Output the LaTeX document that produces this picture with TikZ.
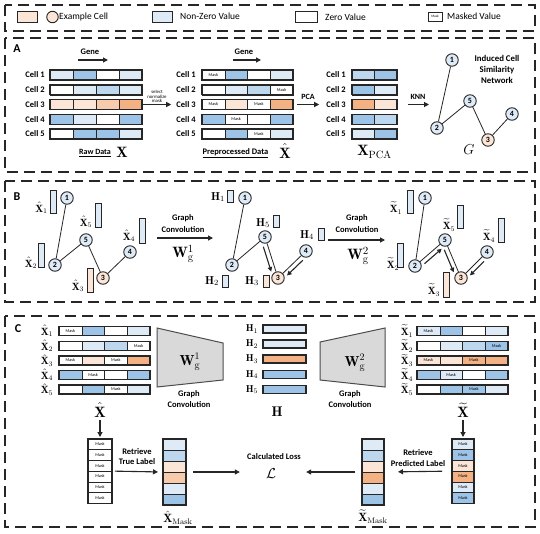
\documentclass[tikz,border=0pt]{standalone}
\usepackage{fontspec}
\setsansfont{Carlito}
\usepackage{amsmath}
\usetikzlibrary{arrows.meta,calc}
\definecolor{lb}{HTML}{DEEBF7}
\definecolor{mb}{HTML}{BDD7EE}
\definecolor{bb}{HTML}{9DC3E6}
\definecolor{lp}{HTML}{FBE5D6}
\definecolor{mp}{HTML}{F8CBAD}
\definecolor{og}{HTML}{F4B183}
\definecolor{gy}{HTML}{D9D9D9}
\definecolor{ln}{HTML}{262626}
\definecolor{w}{HTML}{FFFFFF}
\newcommand\fsz[1]{\fontsize{#1}{#1}\selectfont}
\newcommand\masktxt{\sffamily\fsz{4.3}Mask}
\tikzset{
  frame/.style={draw=ln, line width=1.3pt, dash pattern=on 11pt off 6pt},
  cellbox/.style={draw=ln, line width=0.5pt, inner sep=0pt, outer sep=0pt},
  rowbox/.style={draw=ln, line width=1.1pt, inner sep=0pt, outer sep=0pt},
  lbl/.style={font=\sffamily\bfseries\fsz{8.5}, inner sep=0pt},
  small/.style={font=\sffamily\fontsize{4.8}{4.6}\selectfont, inner sep=0pt, align=center},
  legt/.style={font=\sffamily\fsz{9.5}, inner sep=0pt, anchor=west},
  sec/.style={font=\sffamily\bfseries\fsz{12}, inner sep=0pt},
  gnode/.style={circle, draw=ln, line width=0.9pt, fill=lb, minimum size=12.5pt, inner sep=0pt, font=\sffamily\bfseries\fsz{8}},
  gedge/.style={draw=ln, line width=0.8pt},
  arr/.style={draw=ln, line width=1.1pt, -{Triangle[length=5pt,width=5pt]}},
  garr/.style={draw=ln, line width=1.1pt, -{Triangle[length=4.5pt,width=4.5pt]}, shorten <=2pt, shorten >=1.5pt},
  vbar/.style={draw=ln, line width=0.9pt, fill=lb, minimum width=6pt, inner sep=0pt},
  mth/.style={inner sep=0pt, font=\fsz{#1}},
  trap/.style={draw=black!70, line width=1pt, fill=gy},
}
\newcommand\cellrow[7]{%
  \foreach \cc/\mm [count=\ii] in {#7}{%
    \node[cellbox, fill=\cc, minimum width=#4, minimum height=#5] at ({#2+(\ii-0.5)*#4},#3) {\ifnum\mm=1 \masktxt\fi};}
  \node[rowbox, minimum width={#6*#4}, minimum height=#5, anchor=west] (#1) at (#2,#3) {};}
\newcommand\cellcol[7]{%
  \foreach \cc/\mm [count=\ii] in {#7}{%
    \node[cellbox, fill=\cc, minimum width=#4, minimum height=#5] at (#2,{#3+(\ii-0.5)*#5}) {\ifnum\mm=1 \masktxt\fi};}
  \node[rowbox, minimum width=#4, minimum height={#6*#5}, anchor=north] (#1) at (#2,#3) {};}
\begin{document}
\begin{tikzpicture}[x=1pt,y=-1pt]
\useasboundingbox (0,0) rectangle (540,533);
\fill[white] (0,0) rectangle (540,533);
% ---------------- legend
\draw[frame] (5,5) rectangle (535,31);
\node[cellbox, line width=0.9pt, fill=lp, minimum width=20, minimum height=11] (lg1) at (27,17) {};
\node[circle, draw=ln, line width=0.9pt, fill=lp, minimum size=11.5, inner sep=0pt] (lg2) at (52.5,17) {};
\node[legt] (lg3) at (59,17) {Example Cell};
\node[cellbox, line width=0.9pt, fill=lb, minimum width=20, minimum height=11] (lg4) at (162,17) {};
\node[legt] (lg5) at (180,16.5) {Non-Zero Value};
\node[cellbox, line width=0.9pt, fill=white, minimum width=22, minimum height=11] (lg6) at (306,17) {};
\node[legt] (lg7) at (325,17) {Zero Value};
\node[cellbox, line width=0.9pt, fill=white, minimum width=14, minimum height=9] (lg8) at (435,16.5) {\sffamily\fsz{3.4}Mask};
\node[legt] (lg9) at (447,16.5) {Masked Value};
% ---------------- A
\draw[frame] (5,38) rectangle (535,172);
\node[sec] (seca) at (17,49) {A};
\node[lbl] (gene1) at (90,52) {Gene};
\coordinate (ga1) at (78,60); \coordinate (gb1) at (108,60);
\draw[arr] (ga1) -- (gb1);
\node[lbl] (gene2) at (244,52) {Gene};
\coordinate (ga2) at (233,60); \coordinate (gb2) at (261,60);
\draw[arr] (ga2) -- (gb2);
% raw
\cellrow{r1}{50}{75}{23}{10}{4}{lb/0,bb/0,w/0,lb/0}
\cellrow{r2}{50}{89.75}{23}{10}{4}{w/0,lb/0,mb/0,lb/0}
\cellrow{r3}{50}{104.5}{23}{10}{4}{lp/0,lp/0,mp/0,og/0}
\cellrow{r4}{50}{119.25}{23}{10}{4}{bb/0,lb/0,w/0,bb/0}
\cellrow{r5}{50}{134}{23}{10}{4}{w/0,bb/0,bb/0,lb/0}
\node[lbl] (rc1) at (35,75) {Cell 1};
\node[lbl] (rc2) at (35,89.75) {Cell 2};
\node[lbl] (rc3) at (35,104.5) {Cell 3};
\node[lbl] (rc4) at (35,119.25) {Cell 4};
\node[lbl] (rc5) at (35,134) {Cell 5};
% preprocessed
\cellrow{p1}{202}{75}{22.75}{10}{4}{w/1,bb/0,w/0,lb/0}
\cellrow{p2}{202}{89.75}{22.75}{10}{4}{w/0,lb/0,mb/0,w/1}
\cellrow{p3}{202}{104.5}{22.75}{10}{4}{w/1,lp/0,w/1,og/0}
\cellrow{p4}{202}{119.25}{22.75}{10}{4}{bb/0,w/1,w/0,bb/0}
\cellrow{p5}{202}{134}{22.75}{10}{4}{w/0,bb/0,w/1,lb/0}
\node[lbl] (pc1) at (186,75) {Cell 1};
\node[lbl] (pc2) at (186,89.75) {Cell 2};
\node[lbl] (pc3) at (186,104.5) {Cell 3};
\node[lbl] (pc4) at (186,119.25) {Cell 4};
\node[lbl] (pc5) at (186,134) {Cell 5};
% PCA
\cellrow{q1}{352}{75}{22.5}{10}{2}{mb/0,bb/0}
\cellrow{q2}{352}{89.75}{22.5}{10}{2}{bb/0,lb/0}
\cellrow{q3}{352}{104.5}{22.5}{10}{2}{og/0,lp/0}
\cellrow{q4}{352}{119.25}{22.5}{10}{2}{bb/0,mb/0}
\cellrow{q5}{352}{134}{22.5}{10}{2}{lb/0,bb/0}
\node[lbl] (qc1) at (336,75) {Cell 1};
\node[lbl] (qc2) at (336,89.75) {Cell 2};
\node[lbl] (qc3) at (336,104.5) {Cell 3};
\node[lbl] (qc4) at (336,119.25) {Cell 4};
\node[lbl] (qc5) at (336,134) {Cell 5};
% bottom labels
\node[lbl, font=\sffamily\bfseries\fsz{8}] (rawt) at (95,153) {\underline{Raw Data}};
\node[mth=15] (rawx) at (122,152) {$\mathbf{X}$};
\node[lbl] (pret) at (235.5,153) {\underline{Preprocessed Data}};
\node[mth=15] (prex) at (285,151) {$\hat{\mathbf{X}}$};
\node[mth=15] (pcax) at (374.5,152) {$\mathbf{X}_{\mathrm{PCA}}$};
\node[mth=15] (gg) at (469,150) {$G$};
% arrows
\node[small] (sel) at (157,96.5) {select\\normalize\\mask};
\draw[arr, shorten <=1pt, shorten >=5pt] (r3.east) -- (pc3.west);
\node[lbl, font=\sffamily\bfseries\fsz{8}] (pcat) at (308,97) {PCA};
\draw[arr, shorten <=4pt, shorten >=7pt] (p3.east) -- (qc3.west);
\node[lbl, font=\sffamily\bfseries\fsz{8}] (knnt) at (418,97) {KNN};
\coordinate (knne) at (429,104.5);
\draw[arr, shorten <=11pt] (q3.east) -- (knne);
% graph G
\node[gnode] (a1) at (452,60) {1};
\node[gnode] (a5) at (470,101) {5};
\node[gnode] (a2) at (437,128) {2};
\node[gnode, fill=lp] (a3) at (488,140) {3};
\node[gnode] (a4) at (512,114) {4};
\draw[gedge] (a1) -- (a2) (a2) -- (a5) (a5) -- (a3) (a3) -- (a4);
\node[lbl, align=center, font=\sffamily\bfseries\fontsize{8.8}{11}\selectfont] (ind) at (497,69) {Induced Cell\\Similarity\\Network};
% ---------------- B
\draw[frame] (5,181) rectangle (535,302);
\node[sec] (secb) at (17,197) {B};
% graph 1
\node[gnode] (b1) at (67,198) {1};
\node[gnode] (b5) at (86,240) {5};
\node[gnode] (b2) at (55,265) {2};
\node[gnode, fill=lp] (b3) at (103,278) {3};
\node[gnode] (b4) at (130,252) {4};
\draw[gedge] (b1) -- (b2) (b2) -- (b5) (b5) -- (b3) (b3) -- (b4);
\node[vbar, minimum height=23] (bx1) at (53.5,201.5) {};
\node[vbar, minimum height=24] (bx5) at (98,215) {};
\node[vbar, minimum height=24] (bx2) at (41.5,255) {};
\node[vbar, fill=lp, minimum height=24] (bx3) at (90,280) {};
\node[vbar, minimum height=25] (bx4) at (142,230.5) {};
\node[mth=10.5] (lx1) at (41.5,208) {$\hat{\mathbf{X}}_1$};
\node[mth=10.5] (lx5) at (86,222) {$\hat{\mathbf{X}}_5$};
\node[mth=10.5] (lx2) at (31,263) {$\hat{\mathbf{X}}_2$};
\node[mth=10.5] (lx3) at (78,286) {$\hat{\mathbf{X}}_3$};
\node[mth=10.5] (lx4) at (129,236) {$\hat{\mathbf{X}}_4$};
% conv 1
\node[lbl] (gc1a) at (183,218) {Graph};
\node[lbl] (gc1b) at (183,230) {Convolution};
\coordinate (gc1s) at (157,238); \coordinate (gc1e) at (213,238);
\draw[arr] (gc1s) -- (gc1e);
\node[mth=15] (w1) at (183,254) {$\mathbf{W}_{\mathrm{g}}^{1}$};
% graph 2 (H)
\node[gnode] (h1) at (245,198) {1};
\node[gnode] (h5) at (265,237) {5};
\node[gnode] (h2) at (232,265) {2};
\node[gnode, fill=lp] (h3) at (278,278) {3};
\node[gnode] (h4) at (306,251) {4};
\draw[gedge] (h1) -- (h2) (h2) -- (h5) (h5) -- (h3) (h4) -- (h3);
\draw[garr, transform canvas={shift={(-4.3,1.4)}}] (h5) -- (h3);
\draw[garr, transform canvas={shift={(3.1,3.2)}}] (h4) -- (h3);
\node[vbar, minimum height=12] (hb1) at (230.5,196) {};
\node[vbar, minimum height=12] (hb5) at (276,221) {};
\node[vbar, minimum height=12] (hb4) at (321,234) {};
\node[vbar, minimum height=12] (hb2) at (225,281) {};
\node[vbar, fill=lp, minimum height=12] (hb3) at (266,281) {};
\node[mth=11.5] (lh1) at (218,197) {$\mathbf{H}_1$};
\node[mth=11.5] (lh5) at (263,223) {$\mathbf{H}_5$};
\node[mth=11.5] (lh4) at (307,235) {$\mathbf{H}_4$};
\node[mth=11.5] (lh2) at (212,281) {$\mathbf{H}_2$};
\node[mth=11.5] (lh3) at (252,281) {$\mathbf{H}_3$};
% conv 2
\node[lbl] (gc2a) at (357,218) {Graph};
\node[lbl] (gc2b) at (357,230) {Convolution};
\coordinate (gc2s) at (328,240); \coordinate (gc2e) at (385,240);
\draw[arr] (gc2s) -- (gc2e);
\node[mth=15] (w2) at (358,256) {$\mathbf{W}_{\mathrm{g}}^{2}$};
% graph 3
\node[gnode] (t1) at (425,198) {1};
\node[gnode] (t5) at (445,240) {5};
\node[gnode] (t2) at (415,266) {2};
\node[gnode, fill=lp] (t3) at (461,278) {3};
\node[gnode] (t4) at (487,252) {4};
\draw[gedge] (t1) -- (t2) (t2) -- (t5) (t5) -- (t3) (t4) -- (t3);
\draw[garr, transform canvas={shift={(2.9,3.4)}}] (t2) -- (t5);
\draw[garr, transform canvas={shift={(-4.1,1.8)}}] (t5) -- (t3);
\draw[garr, transform canvas={shift={(3.2,3.2)}}] (t4) -- (t3);
\node[vbar, minimum height=23] (tb1) at (410,201.5) {};
\node[vbar, minimum height=23] (tb5) at (460.5,216.5) {};
\node[vbar, minimum height=24] (tb4) at (501,230) {};
\node[vbar, minimum height=24] (tb2) at (400.5,255) {};
\node[vbar, fill=lp, minimum height=25] (tb3) at (446,284.5) {};
\node[mth=10.5] (lt1) at (396,208) {$\widetilde{\mathbf{X}}_1$};
\node[mth=10.5] (lt5) at (449,225) {$\widetilde{\mathbf{X}}_5$};
\node[mth=10.5] (lt4) at (489,236) {$\widetilde{\mathbf{X}}_4$};
\node[mth=10.5] (lt2) at (393,264) {$\widetilde{\mathbf{X}}_2$};
\node[mth=10.5] (lt3) at (434,290) {$\widetilde{\mathbf{X}}_3$};
% ---------------- C
\draw[frame] (5,316) rectangle (535,527);
\node[sec] (secc) at (18,329) {C};
\cellrow{c1}{59}{331}{22.75}{9}{4}{w/1,bb/0,w/0,lb/0}
\cellrow{c2}{59}{346}{22.75}{9}{4}{w/0,lb/0,mb/0,w/1}
\cellrow{c3}{59}{360.5}{22.75}{9}{4}{w/1,lp/0,w/1,og/0}
\cellrow{c4}{59}{375}{22.75}{9}{4}{bb/0,w/1,w/0,bb/0}
\cellrow{c5}{59}{389.5}{22.75}{9}{4}{w/0,bb/0,w/1,lb/0}
\node[mth=10.5] (cl1) at (47,331) {$\hat{\mathbf{X}}_1$};
\node[mth=10.5] (cl2) at (47,346) {$\hat{\mathbf{X}}_2$};
\node[mth=10.5] (cl3) at (47,360.5) {$\hat{\mathbf{X}}_3$};
\node[mth=10.5] (cl4) at (47,375) {$\hat{\mathbf{X}}_4$};
\node[mth=10.5] (cl5) at (47,389.5) {$\hat{\mathbf{X}}_5$};
\node[mth=15] (xhc) at (100,410) {$\hat{\mathbf{X}}$};
% encoder
\draw[trap] (157,328) -- (223,343) -- (223,380) -- (157,387) -- cycle;
\node[mth=14.5] (cw1) at (190,362) {$\mathbf{W}_{\mathrm{g}}^{1}$};
\node[lbl] (cg1a) at (189,394) {Graph};
\node[lbl] (cg1b) at (189,405) {Convolution};
% H
\node[cellbox, line width=1.1pt, fill=lb, minimum width=43, minimum height=8, anchor=west] (hr1) at (263,329) {};
\node[cellbox, line width=1.1pt, fill=lb, minimum width=43, minimum height=8, anchor=west] (hr2) at (263,344) {};
\node[cellbox, line width=1.1pt, fill=og, minimum width=43, minimum height=8, anchor=west] (hr3) at (263,359) {};
\node[cellbox, line width=1.1pt, fill=bb, minimum width=43, minimum height=8, anchor=west] (hr4) at (263,374.5) {};
\node[cellbox, line width=1.1pt, fill=bb, minimum width=43, minimum height=8, anchor=west] (hr5) at (263,389.5) {};
\node[mth=10] (hl1) at (252,329) {$\mathbf{H}_1$};
\node[mth=10] (hl2) at (252,344) {$\mathbf{H}_2$};
\node[mth=10] (hl3) at (252,359) {$\mathbf{H}_3$};
\node[mth=10] (hl4) at (252,374.5) {$\mathbf{H}_4$};
\node[mth=10] (hl5) at (252,389.5) {$\mathbf{H}_5$};
\node[mth=14] (hbig) at (277,412) {$\mathbf{H}$};
% decoder
\draw[trap] (320,342) -- (385,328) -- (385,387) -- (320,380) -- cycle;
\node[mth=14.5] (cw2) at (355,363) {$\mathbf{W}_{\mathrm{g}}^{2}$};
\node[lbl] (cg2a) at (350,394) {Graph};
\node[lbl] (cg2b) at (350,405) {Convolution};
% right matrix
\cellrow{d1}{417}{331}{22.75}{9}{4}{lb/1,bb/0,w/0,lb/0}
\cellrow{d2}{417}{346}{22.75}{9}{4}{w/0,lb/0,mb/0,bb/1}
\cellrow{d3}{417}{360.5}{22.75}{9}{4}{lp/1,lp/0,og/1,og/0}
\cellrow{d4}{417}{375}{22.75}{9}{4}{bb/0,lb/1,w/0,bb/0}
\cellrow{d5}{417}{389.5}{22.75}{9}{4}{w/0,bb/0,bb/1,lb/0}
\node[mth=10.5] (dl1) at (407,331) {$\widetilde{\mathbf{X}}_1$};
\node[mth=10.5] (dl2) at (407,346) {$\widetilde{\mathbf{X}}_2$};
\node[mth=10.5] (dl3) at (407,360.5) {$\widetilde{\mathbf{X}}_3$};
\node[mth=10.5] (dl4) at (407,375) {$\widetilde{\mathbf{X}}_4$};
\node[mth=10.5] (dl5) at (407,389.5) {$\widetilde{\mathbf{X}}_5$};
\node[mth=15] (xtc) at (463,410) {$\widetilde{\mathbf{X}}$};
% mask columns
\cellcol{mcl}{100}{439}{24}{10.7}{6}{w/1,w/1,w/1,w/1,w/1,w/1}
\cellcol{xml}{174.5}{439}{23}{11}{6}{lb/0,mb/0,lp/0,mp/0,lb/0,bb/0}
\cellcol{xmr}{373}{439}{22}{11}{6}{lb/0,mb/0,lp/0,og/0,lb/0,bb/0}
\cellcol{mcr}{463}{439}{22}{10.7}{6}{lb/1,bb/1,lp/1,og/1,lb/1,bb/1}
\node[mth=12] (xmll) at (178,518) {$\hat{\mathbf{X}}_{\mathrm{Mask}}$};
\node[mth=12] (xmrl) at (373,517) {$\widetilde{\mathbf{X}}_{\mathrm{Mask}}$};
\node[lbl, align=center, font=\sffamily\bfseries\fontsize{8.5}{10}\selectfont] (rtl) at (137,457) {Retrieve\\True Label};
\node[lbl, align=center, font=\sffamily\bfseries\fontsize{8.5}{11}\selectfont] (rpl) at (418,458.5) {Retrieve\\Predicted Label};
\node[lbl] (calc) at (274,457) {Calculated Loss};
\node[mth=15] (loss) at (271,474) {$\mathcal{L}$};
\draw[arr, shorten <=3pt, shorten >=2pt] (xhc.south) -- (mcl.north);
\draw[arr, shorten <=3pt, shorten >=2pt] (xtc.south) -- (mcr.north);
\draw[arr, shorten <=3pt, shorten >=5pt] (mcl.east) -- (xml.west);
\draw[arr, shorten <=7pt, shorten >=26pt] (xml.east) -- (loss.west |- xml.east);
\draw[arr, shorten <=10pt, shorten >=14pt] (mcr.west) -- (xmr.east);
\draw[arr, shorten <=7pt, shorten >=30pt] (xmr.west) -- (loss.east |- xmr.west);
\end{tikzpicture}
\end{document}
